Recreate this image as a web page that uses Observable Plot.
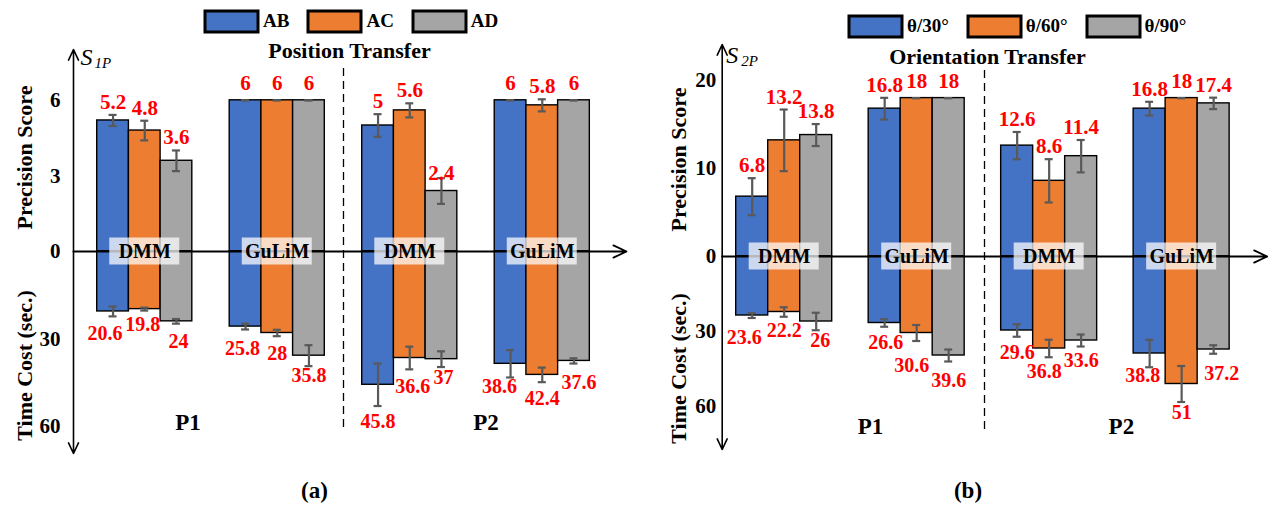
<!DOCTYPE html>
<html>
<head>
<meta charset="utf-8">
<script src="https://cdn.jsdelivr.net/npm/d3@7"></script>
<script src="https://cdn.jsdelivr.net/npm/@observablehq/plot@0.6"></script>
<style>
html, body { margin: 0; padding: 0; background: #fff; }
#root { position: relative; width: 1277px; height: 506px; display: flex; }
.panel { position: relative; height: 506px; }
.panel > svg { display: block; }
.lg-swatches { font: bold 19px "Liberation Serif", "Times New Roman", serif !important; margin: 0 !important; color: #000; }
.lg-swatches-wrap { min-height: 0 !important; flex-wrap: nowrap !important; }
.lg-swatch { margin-right: 19px !important; }
.lg-swatch > svg { margin-right: 5px !important; }
.lg-swatch rect { stroke: #000; stroke-width: 3px; }
</style>
</head>
<body>
<div id="root"></div>
<script>
// ---------- data ----------
const groupMethods = ["DMM", "GuLiM", "DMM", "GuLiM"];
const phases = ["P1", "P2"];
const seriesA = ["AB", "AC", "AD"];
const seriesB = ["θ/30°", "θ/60°", "θ/90°"];
const colors = ["#4472C4", "#ED7D31", "#A5A5A5"];

// panel (a): Position Transfer  [group][series]
const precisionA    = [[5.2, 4.8, 3.6], [6, 6, 6], [5, 5.6, 2.4], [6, 5.8, 6]];
const precisionErrA = [[0.22, 0.39, 0.41], [0, 0, 0], [0.45, 0.28, 0.51], [0, 0.24, 0]];
const timeA         = [[20.6, 19.8, 24], [25.8, 28, 35.8], [45.8, 36.6, 37], [38.6, 42.4, 37.6]];
const timeErrA      = [[1.7, 0.5, 0.8], [1.0, 1.1, 3.6], [7.3, 3.9, 2.7], [4.7, 2.5, 0.9]];

// panel (b): Orientation Transfer
const precisionB    = [[6.8, 13.2, 13.8], [16.8, 18, 18], [12.6, 8.6, 11.4], [16.8, 18, 17.4]];
const precisionErrB = [[2.1, 3.5, 1.25], [1.23, 0, 0], [1.55, 2.46, 1.84], [0.78, 0, 0.65]];
const timeB         = [[23.6, 22.2, 26], [26.6, 30.6, 39.6], [29.6, 36.8, 33.6], [38.8, 51, 37.2]];
const timeErrB      = [[1.0, 1.9, 3.5], [1.5, 3.2, 2.4], [2.5, 3.5, 2.4], [5.5, 7.2, 1.7]];

const precisionTicksA = [0, 3, 6];
const precisionTicksB = [0, 10, 20];
const timeTicksA = [30, 60];
const timeTicksB = [30, 60];

const panelTitles = ["Position Transfer", "Orientation Transfer"];
const captions = ["(a)", "(b)"];
const symbolSubs = ["1P", "2P"];
const yTitles = ["Precision Score", "Time Cost (sec.)"];

// ---------- layout (pixels) ----------
// small hand-placed nudges of the value labels, [dx, dy] in pixels
const precNudgeA = [[[0, 0], [0, 0], [0, 0]], [[0, -4], [0, -4], [0, -4]], [[0, 0], [0, 0], [0, 8]], [[0, -4], [0, 0], [0, -4]]];
const timeNudgeA = [[[-8, 3], [-2, 0], [2, 4]], [[-3, 5], [0, 4], [0, -4]], [[0, 2], [3, 3], [2, -3]], [[-11, -5], [0, 3], [5, 5]]];
const precNudgeB = [[[0, 0], [0, 0], [0, 0]], [[0, 0], [0, -4], [0, -4]], [[0, 0], [0, 0], [0, 0]], [[0, 0], [0, -4], [0, 0]]];
const timeNudgeB = [[[-8, 6], [0, 0], [4, -3]], [[1, 2], [-5, 11], [0, 5]], [[0, 2], [-5, 1], [0, 0]], [[-7, -5], [0, -3], [8, 6]]];

const layouts = [
  { width: 638, x0: 96.7, w: 31.7, step: 4.18, axis: 73, tip: 626, dash: 343, dashY: [68, 430],
    zero: 251, pPx: 25.2, tPx: 2.91, top: 49, bottom: 453, titleX: 349, titleY: 50,
    sY: 57, sDx: 7, subDx: 21, tickDx: -13, yTitleX: 24, yTitleY: [157, 365],
    phaseY: 422, phaseDx: [-23, 10], captionDx: -5, legendLeft: 205, legendTop: 10,
    precNudge: precNudgeA, timeNudge: timeNudgeA },
  { width: 639, x0: 97.7, w: 32, step: 4.14, axis: 83.7, tip: 628.7, dash: 346, dashY: [70, 433],
    zero: 256, pPx: 8.8, tPx: 2.5, top: 44, bottom: 449, titleX: 349, titleY: 56,
    sY: 55, sDx: 4, subDx: 19, tickDx: -6, yTitleX: 40, yTitleY: [159, 368],
    phaseY: 426, phaseDx: [20, 6], captionDx: 10, legendLeft: 211, legendTop: 15,
    precNudge: precNudgeB, timeNudge: timeNudgeB }
];

const panelsData = [
  { series: seriesA, prec: precisionA, precErr: precisionErrA, time: timeA, timeErr: timeErrA,
    pTicks: precisionTicksA, tTicks: timeTicksA },
  { series: seriesB, prec: precisionB, precErr: precisionErrB, time: timeB, timeErr: timeErrB,
    pTicks: precisionTicksB, tTicks: timeTicksB }
];

const font = "'Liberation Serif', 'Times New Roman', serif";

function makePanel(k) {
  const d = panelsData[k], L = layouts[k];
  const X = px => (px - L.x0) / L.w;
  const Y = px => (L.zero - px) / L.pPx;
  const ratio = L.tPx / L.pPx;
  const rows = [];
  groupMethods.forEach((m, gi) => d.series.forEach((s, si) => {
    const slot = gi * L.step + si;
    rows.push({ series: s, x1: slot, x2: slot + 1, xc: slot + 0.5,
      p: d.prec[gi][si], pe: d.precErr[gi][si], t: d.time[gi][si], te: d.timeErr[gi][si],
      pn: L.precNudge[gi][si], tn: L.timeNudge[gi][si] });
  }));
  const grows = groupMethods.map((m, gi) => ({ m, xc: gi * L.step + 1.5 }));
  const prows = phases.map((ph, i) => ({ ph, xc: (grows[2 * i].xc + grows[2 * i + 1].xc) / 2, dx: L.phaseDx[i] }));
  const cap = 4 / L.w;
  const bw = 35 / L.w, bh = 13.5 / L.pPx;
  const ERR = "#595959";
  const T = (data, o) => Plot.text(data, { fontFamily: font, fontWeight: "bold", fill: "#000", ...o });

  const svg = Plot.plot({
    width: L.width, height: 506, margin: 0,
    x: { type: "linear", domain: [0, 1], range: [L.x0, L.x0 + L.w], axis: null },
    y: { type: "linear", domain: [0, 1], range: [L.zero, L.zero - L.pPx], axis: null },
    color: { domain: d.series, range: colors },
    style: { fontFamily: font, background: "white", overflow: "visible" },
    marks: [
      // bars
      Plot.rect(rows, { x1: "x1", x2: "x2", y1: 0, y2: "p", fill: "series", stroke: "#000", strokeWidth: 1.4 }),
      Plot.rect(rows, { x1: "x1", x2: "x2", y1: 0, y2: r => -r.t * ratio, fill: "series", stroke: "#000", strokeWidth: 1.4 }),
      // axes
      Plot.arrow([0], { x1: X(L.axis), y1: 0, x2: X(L.tip), y2: 0, stroke: "#000", strokeWidth: 1.8, headLength: 12, headAngle: 50 }),
      Plot.arrow([0], { x1: X(L.axis), y1: 0, x2: X(L.axis), y2: Y(L.top), stroke: "#000", strokeWidth: 1.6, headLength: 11, headAngle: 50 }),
      Plot.arrow([0], { x1: X(L.axis), y1: 0, x2: X(L.axis), y2: Y(L.bottom), stroke: "#000", strokeWidth: 1.6, headLength: 11, headAngle: 50 }),
      Plot.ruleX([X(L.dash)], { x: v => v, y1: Y(L.dashY[0]), y2: Y(L.dashY[1]), stroke: "#000", strokeWidth: 1.3, strokeDasharray: "8,5" }),
      // error bars: precision
      Plot.ruleX(rows, { x: "xc", y1: r => r.p - r.pe, y2: r => r.p + r.pe, stroke: ERR, strokeWidth: 2.2 }),
      Plot.ruleY(rows, { y: r => r.p + r.pe, x1: r => r.xc - cap, x2: r => r.xc + cap, stroke: ERR, strokeWidth: 2.2 }),
      Plot.ruleY(rows, { y: r => r.p - r.pe, x1: r => r.xc - cap, x2: r => r.xc + cap, stroke: ERR, strokeWidth: 2.2 }),
      // error bars: time
      Plot.ruleX(rows, { x: "xc", y1: r => -(r.t - r.te) * ratio, y2: r => -(r.t + r.te) * ratio, stroke: ERR, strokeWidth: 2.2 }),
      Plot.ruleY(rows, { y: r => -(r.t + r.te) * ratio, x1: r => r.xc - cap, x2: r => r.xc + cap, stroke: ERR, strokeWidth: 2.2 }),
      Plot.ruleY(rows, { y: r => -(r.t - r.te) * ratio, x1: r => r.xc - cap, x2: r => r.xc + cap, stroke: ERR, strokeWidth: 2.2 }),
      // method boxes
      Plot.rect(grows, { x1: g => g.xc - bw, x2: g => g.xc + bw, y1: -bh, y2: bh, fill: "white", fillOpacity: 0.72 }),
      T(grows, { x: "xc", y: 0, text: "m", fontSize: 20 }),
      // value labels
      T(rows, { x: r => r.xc + r.pn[0] / L.w, y: r => r.p + r.pe - r.pn[1] / L.pPx, text: r => String(r.p),
                lineAnchor: "bottom", dy: -6, fill: "#FF0000", fontSize: 21 }),
      T(rows, { x: r => r.xc + r.tn[0] / L.w, y: r => -(r.t + r.te) * ratio - r.tn[1] / L.pPx, text: r => String(r.t),
                lineAnchor: "top", dy: 6, fill: "#FF0000", fontSize: 20 }),
      // tick labels
      T(d.pTicks, { x: X(L.axis), y: v => v, text: v => String(v), dx: L.tickDx, textAnchor: "end", fontSize: 21 }),
      T(d.tTicks, { x: X(L.axis), y: v => -v * ratio, text: v => String(v), dx: L.tickDx, textAnchor: "end", fontSize: 21 }),
      // axis titles
      T([yTitles[0]], { x: X(L.yTitleX), y: Y(L.yTitleY[0]), text: t => t, rotate: -90, fontSize: 22 }),
      T([yTitles[1]], { x: X(L.yTitleX), y: Y(L.yTitleY[1]), text: t => t, rotate: -90, fontSize: 22 }),
      // S symbol
      T(["S"], { x: X(L.axis), y: Y(L.sY), text: t => t, dx: L.sDx, textAnchor: "start", fontStyle: "italic", fontWeight: "normal", fontSize: 24 }),
      T([symbolSubs[k]], { x: X(L.axis), y: Y(L.sY + 6), text: t => t, dx: L.subDx, textAnchor: "start", fontStyle: "italic", fontWeight: "normal", fontSize: 15 }),
      // title, phases, caption
      T([panelTitles[k]], { x: X(L.titleX), frameAnchor: "top", lineAnchor: "middle", dy: L.titleY, text: t => t, fontSize: 22 }),
      ...prows.map(p => T([p], { x: "xc", y: Y(L.phaseY), text: "ph", dx: p.dx, fontSize: 23 })),
      T([captions[k]], { frameAnchor: "bottom", lineAnchor: "middle", dx: L.captionDx, dy: -16, text: t => t, fontSize: 23 })
    ]
  });

  const div = document.createElement("div");
  div.className = "panel";
  div.style.width = L.width + "px";
  div.appendChild(svg);
  const lg = Plot.legend({ color: { domain: d.series, range: colors }, swatchWidth: 53, swatchHeight: 21, className: "lg" });
  lg.style.position = "absolute";
  lg.style.left = L.legendLeft + "px";
  lg.style.top = L.legendTop + "px";
  div.appendChild(lg);
  return div;
}

const root = document.getElementById("root");
root.appendChild(makePanel(0));
root.appendChild(makePanel(1));
</script>
</body>
</html>
